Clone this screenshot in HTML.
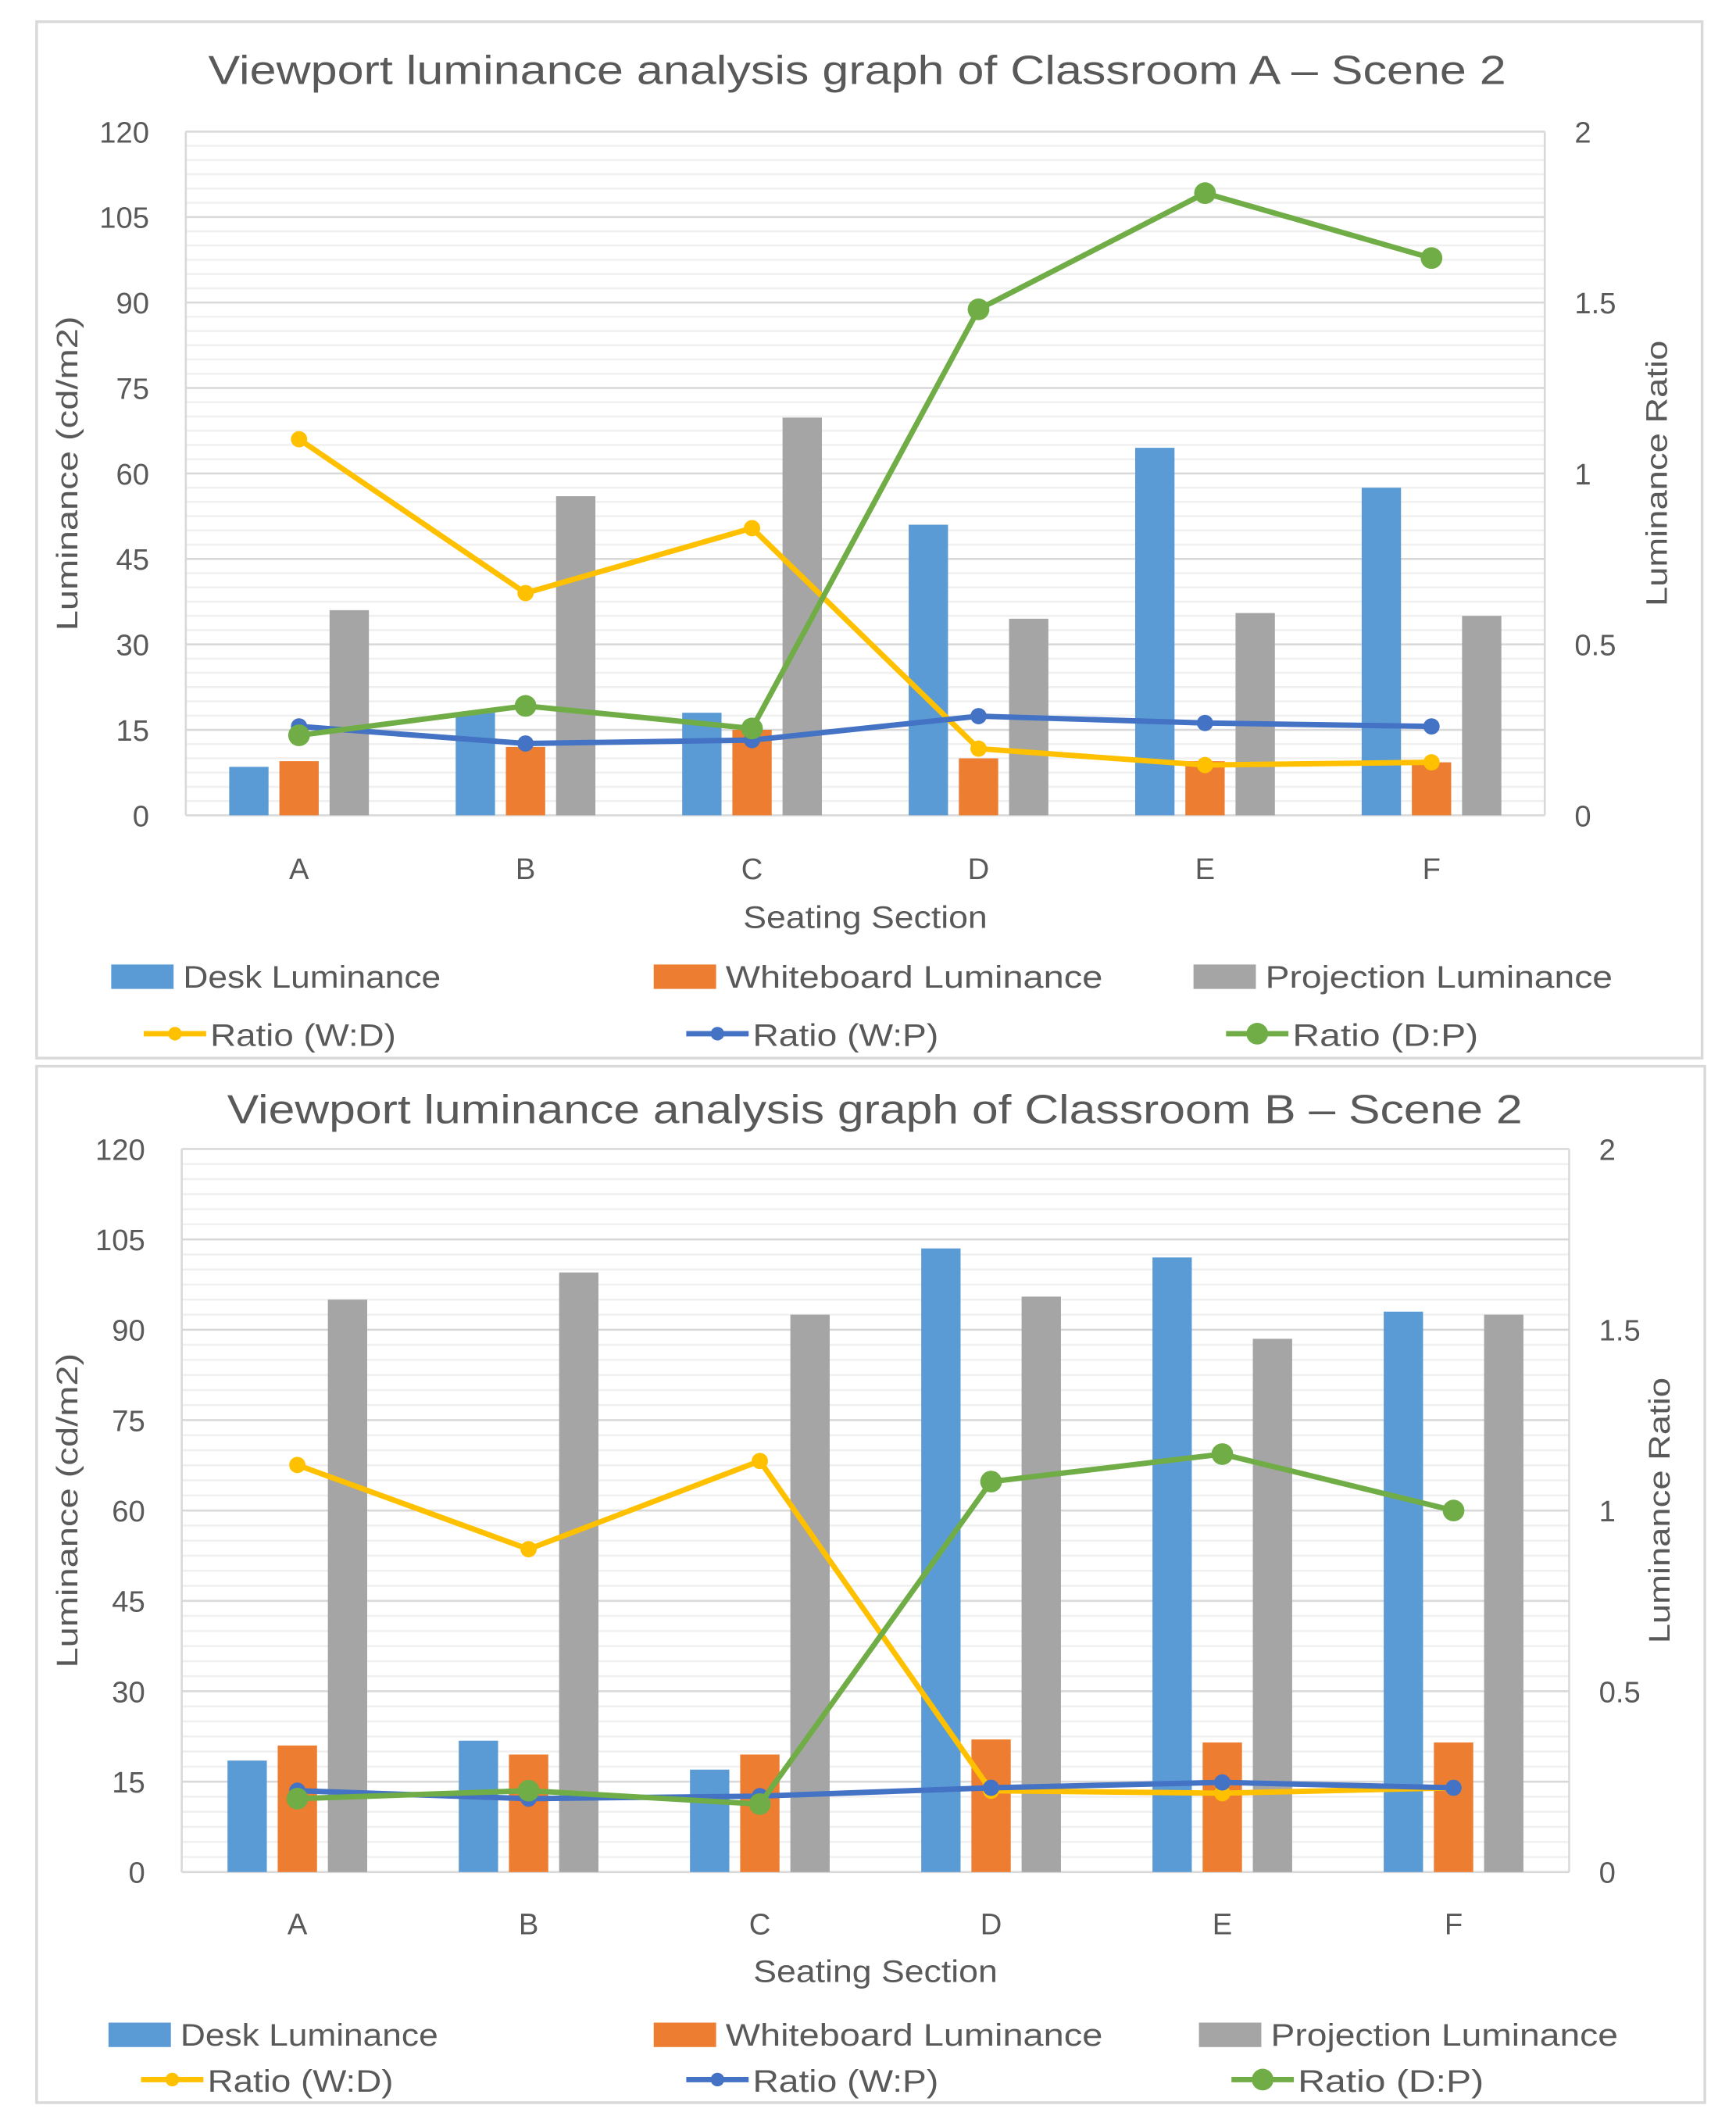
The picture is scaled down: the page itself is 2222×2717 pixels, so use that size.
<!DOCTYPE html>
<html><head><meta charset="utf-8">
<style>
html,body{margin:0;padding:0;background:#fff;}
svg{display:block;}
text{font-family:"Liberation Sans",sans-serif;fill:#595959;}
</style></head>
<body>
<svg id="svg" width="2222" height="2717" viewBox="0 0 1280 1565" preserveAspectRatio="none" xmlns="http://www.w3.org/2000/svg"></svg>
<script>
const categories = ["A","B","C","D","E","F"];
const leftTicks = [0,15,30,45,60,75,90,105,120];
const rightTicks = [0,0.5,1,1.5,2];
const rightTickLabels = ["0","0.5","1","1.5","2"];

const deskA = [8.5,18,18,51,64.5,57.5];
const wbA = [9.5,12,15,10,9.5,9.3];
const projA = [36,56,69.8,34.5,35.5,35];
const wdA = [1.10,0.65,0.84,0.195,0.147,0.155];
const wpA = [0.26,0.21,0.22,0.29,0.27,0.26];
const dpA = [0.234,0.32,0.254,1.48,1.82,1.63];

const deskB = [18.5,21.8,17,103.5,102,93];
const wbB = [21,19.5,19.5,22,21.5,21.5];
const projB = [95,99.5,92.5,95.5,88.5,92.5];
const wdB = [1.126,0.893,1.137,0.225,0.218,0.233];
const wpB = [0.225,0.203,0.21,0.233,0.248,0.233];
const dpB = [0.203,0.225,0.188,1.08,1.156,1.0];

const NS="http://www.w3.org/2000/svg";
const svg=document.getElementById('svg');
function mk(tag,attrs,parent){const e=document.createElementNS(NS,tag);for(const k in attrs)e.setAttribute(k,attrs[k]);(parent||svg).appendChild(e);return e;}
function txt(s,attrs,parent){const e=mk('text',attrs,parent);e.textContent=s;return e;}

function drawChart(cfg,d){
  const g=mk('g',{});
  
  
  const box=mk('rect',{x:cfg.bx,y:cfg.by,width:cfg.bw,height:cfg.bh,fill:'#fff',stroke:'#d9d9d9','stroke-width':2},g);
  
  
  const t=txt(cfg.title,{x:cfg.tx,y:cfg.ty,'text-anchor':'middle','font-size':30,textLength:cfg.tl,lengthAdjust:'spacingAndGlyphs'},g);
  
  
  const L=cfg.L,R=cfg.R,T=cfg.T,B=cfg.B;
  const yL=v=>B-(v/120)*(B-T);
  const yR=v=>B-(v/2)*(B-T);
  const step=(R-L)/categories.length;
  const xC=i=>L+step*(i+0.5);
  // minor grid
  for(let v=2.5;v<120;v+=2.5){
    if(v%15===0)continue;
    mk('line',{x1:L,x2:R,y1:yL(v),y2:yL(v),stroke:'#f0f0f0','stroke-width':1.5},g);
  }
  leftTicks.forEach(v=>{
    const ln=mk('line',{x1:L,x2:R,y1:yL(v),y2:yL(v),stroke:'#d9d9d9','stroke-width':1.5},g);
    
    
    const tl=txt(String(v),{x:L-27,y:yL(v)+8,'text-anchor':'end','font-size':22},g);
    
    
  });
  mk('line',{x1:L,x2:L,y1:T,y2:B,stroke:'#d9d9d9','stroke-width':1.5},g);
  mk('line',{x1:R,x2:R,y1:T,y2:B,stroke:'#d9d9d9','stroke-width':1.5},g);
  rightTicks.forEach((v,i)=>{
    const tl=txt(rightTickLabels[i],{x:R+22,y:yR(v)+8,'font-size':22},g);
    
    
  });
  const bw=29,gap=8;
  const series=[[d.desk,'#5b9bd5','desk-bar'],[d.wb,'#ed7d31','whiteboard-bar'],[d.proj,'#a5a5a5','projection-bar']];
  series.forEach((s,si)=>{
    s[0].forEach((v,i)=>{
      const x=xC(i)+(si-1)*(bw+gap)-bw/2;
      const r=mk('rect',{x:x,y:yL(v),width:bw,height:B-yL(v),fill:s[1]},g);
      
      
    });
  });
  const lines=[[d.wd,'#ffc000',4,'ratio-wd-line'],[d.wp,'#4472c4',4,'ratio-wp-line'],[d.dp,'#70ad47',8,'ratio-dp-line']];
  lines.forEach(l=>{
    const pts=l[0].map((v,i)=>xC(i)+','+yR(v)).join(' ');
    const pl=mk('polyline',{points:pts,fill:'none',stroke:l[1],'stroke-width':4,'stroke-linejoin':'round'},g);
    
    
    l[0].forEach((v,i)=>{
      const c=mk('circle',{cx:xC(i),cy:yR(v),r:l[2]+(l[2]>5?0:2),fill:l[1]},g);
      
      
    });
  });
  categories.forEach((c,i)=>{
    const cl=txt(c,{x:xC(i),y:cfg.xly,'text-anchor':'middle','font-size':22},g);
    
    
  });
  const xt=txt('Seating Section',{x:(L+R)/2,y:cfg.xty,'text-anchor':'middle','font-size':23,textLength:180,lengthAdjust:'spacingAndGlyphs'},g);
  
  
  const yt=txt('Luminance (cd/m2)',{x:0,y:0,'text-anchor':'middle','font-size':22,transform:'translate('+(cfg.bx+30)+','+((T+B)/2)+') rotate(-90)',textLength:232,lengthAdjust:'spacingAndGlyphs'},g);
  
  
  const yt2=txt('Luminance Ratio',{x:0,y:0,'text-anchor':'middle','font-size':22,transform:'translate('+(cfg.bx+cfg.bw-26)+','+((T+B)/2)+') rotate(-90)',textLength:196,lengthAdjust:'spacingAndGlyphs'},g);
  
  
  // legend
  const lx=cfg.legX;
  const bars=[['Desk Luminance','#5b9bd5',190],['Whiteboard Luminance','#ed7d31',278],['Projection Luminance','#a5a5a5',256]];
  bars.forEach((b,i)=>{
    const lg=mk('g',{},g);
    
    
    mk('rect',{x:lx[i],y:cfg.ly1-9,width:46,height:18,fill:b[1]},lg);
    txt(b[0],{x:lx[i]+53,y:cfg.ly1+8,'font-size':23,textLength:b[2],lengthAdjust:'spacingAndGlyphs'},lg);
  });
  const ll=[['Ratio (W:D)','#ffc000',5],['Ratio (W:P)','#4472c4',5],['Ratio (D:P)','#70ad47',8]];
  ll.forEach((b,i)=>{
    const lg=mk('g',{},g);
    
    
    mk('line',{x1:lx[i]+24,x2:lx[i]+70,y1:cfg.ly2,y2:cfg.ly2,stroke:b[1],'stroke-width':4},lg);
    mk('circle',{cx:lx[i]+47,cy:cfg.ly2,r:b[2],fill:b[1]},lg);
    txt(b[0],{x:lx[i]+73,y:cfg.ly2+9,'font-size':23,textLength:137,lengthAdjust:'spacingAndGlyphs'},lg);
  });
}

drawChart({name:'chart-classroom-a',bx:27,by:16,bw:1228,bh:764,title:'Viewport luminance analysis graph of Classroom A – Scene 2',tx:632,ty:62,tl:957,
  L:137,R:1139,T:97,B:601,xly:648,xty:684,legX:[82,482,880],ly1:720,ly2:762},
  {desk:deskA,wb:wbA,proj:projA,wd:wdA,wp:wpA,dp:dpA});
drawChart({name:'chart-classroom-b',bx:27,by:786,bw:1230,bh:764,title:'Viewport luminance analysis graph of Classroom B – Scene 2',tx:645,ty:828,tl:955,
  L:134,R:1157,T:847,B:1380,xly:1426,xty:1461,legX:[80,482,884],ly1:1500,ly2:1533},
  {desk:deskB,wb:wbB,proj:projB,wd:wdB,wp:wpB,dp:dpB});
</script>
</body></html>
